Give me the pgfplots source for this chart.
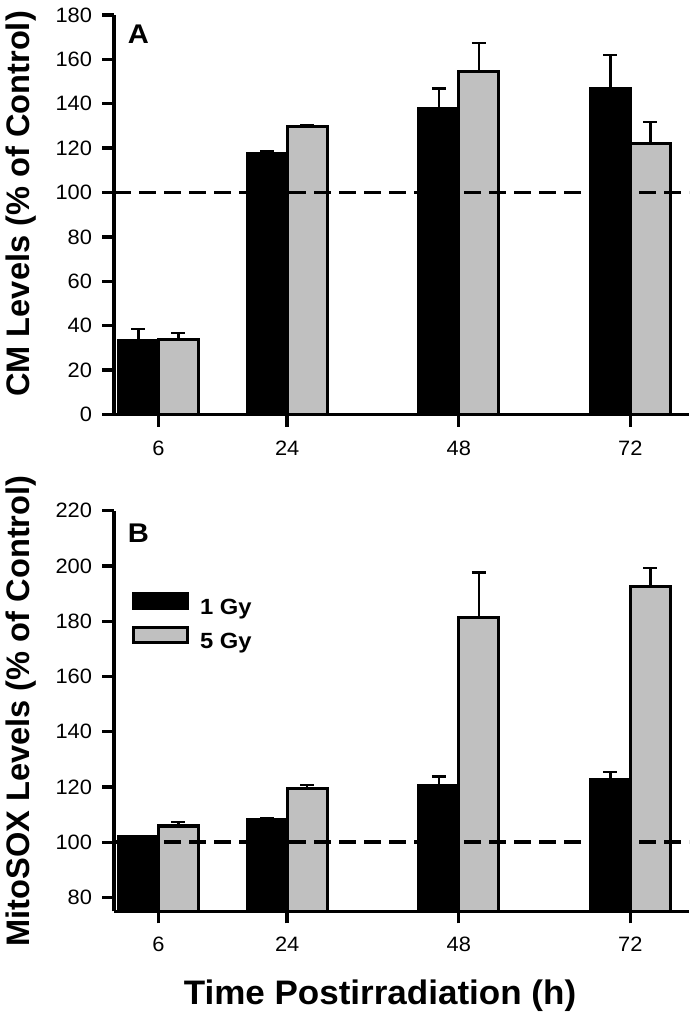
\documentclass[border=0pt]{standalone}
\usepackage{fontspec}
\setmainfont{Liberation Sans}
\newfontfamily\tickfont[FakeStretch=1.05]{Liberation Sans}
\newfontfamily\labfont[FakeStretch=1.08]{Liberation Sans}
\newfontfamily\xlabfont[FakeStretch=1.03]{Liberation Sans}
\usepackage{pgfplots}
\pgfplotsset{compat=1.18}
\usepackage{pgfplotstable}
\definecolor{barg}{RGB}{192,192,192}

\pgfplotstableread{
t m1 e1 m5 e5
6 33.4 5.0 33.7 3.0
24 117.4 1.2 129.8 0.6
48 137.7 9.2 154.5 13.0
72 147.0 15.0 122.0 9.7
}\dataA

\pgfplotstableread{
t m1 e1 m5 e5
6 102.2 0.0 105.9 1.5
24 108.4 0.4 119.5 1.2
48 120.7 3.1 181.3 16.3
72 122.8 2.7 192.5 6.7
}\dataB

\pgfplotsset{
 panel/.style={
  scale only axis, width=287.5pt,
  axis lines=left, axis line style={-, line width=1.8pt, black},
  xmin=-0.22, xmax=80.2,
  xtick={6,24,48,72},
  tick align=outside, major tick length=6pt,
  every tick/.style={black, line width=1.7pt},
  minor tick num=0,
  tick label style={font=\fontsize{10.4}{12}\tickfont, /pgf/number format/assume math mode=true},
  xticklabel style={anchor=north, inner sep=0pt},
  yticklabel style={anchor=east, inner sep=0pt},
  xticklabel shift=6.8pt, yticklabel shift=4.8pt,
  ylabel style={anchor=center, font=\fontsize{16.3}{19}\selectfont\bfseries},
 },
 mybar/.style={ybar, bar width=5.6, bar shift=0pt, line width=1.6pt, draw=black,
  legend image code/.code={\draw[##1] (0pt,0pt) rectangle (27pt,7.5pt);},
  error bars/y dir=plus, error bars/y explicit,
  error bars/error bar style={line width=1.2pt, black},
  error bars/error mark options={rotate=90, mark size=3.5pt, line width=1.2pt, black}},
 refline/.style={black, line width=1.9pt, dash pattern=on 8.5pt off 4pt, forget plot},
}

\begin{document}
\begin{tikzpicture}
\path[use as bounding box] (0pt,0pt) rectangle (348pt,-510pt);

\begin{axis}[panel, at={(57pt,-207.25pt)}, anchor=south west, height=199.75pt,
  ymin=0, ymax=180, ytick={0,20,...,180},
  ylabel={CM Levels (\% of Control)},
  ylabel style={at={(axis description cs:-0.1609,0.527)}}]
\addplot[mybar, fill=black] table[x expr=\thisrow{t}-2.8, y=m1, y error=e1] {\dataA};
\addplot[mybar, fill=barg] table[x expr=\thisrow{t}+2.8, y=m5, y error=e5] {\dataA};
\addplot[refline] coordinates {(-0.22,100) (80.2,100)};
\node[anchor=north west, inner sep=0pt, font=\fontsize{13.5}{15}\labfont\bfseries] at (axis cs:1.66,175.5) {A};
\end{axis}

\begin{axis}[panel, at={(57pt,-455.7pt)}, anchor=south west, height=200.35pt,
  ymin=75, ymax=220, ytick={80,100,...,220},
  ylabel={MitoSOX Levels (\% of Control)},
  ylabel style={at={(axis description cs:-0.1609,0.5)}},
  xlabel={Time Postirradiation (h)},
  xlabel style={at={(axis description cs:0.4626,0)}, anchor=center, yshift=-42.3pt, font=\fontsize{17}{20}\xlabfont\bfseries},
  legend cell align=left,
  legend style={at={(axis cs:2.27,190.7)}, anchor=north west, draw=none, fill=none, inner sep=0pt,
    row sep=3.6pt, column sep=5.3pt, font=\fontsize{11}{13}\labfont\bfseries,
    nodes={inner sep=0pt, text height=7.9pt, text depth=2.3pt}}]
\addplot[mybar, fill=black] table[x expr=\thisrow{t}-2.8, y=m1, y error=e1] {\dataB};
\addplot[mybar, fill=barg] table[x expr=\thisrow{t}+2.8, y=m5, y error=e5] {\dataB};
\addplot[refline] coordinates {(-0.22,100) (80.2,100)};
\legend{1 Gy, 5 Gy}
\node[anchor=north west, inner sep=0pt, font=\fontsize{13.5}{15}\labfont\bfseries] at (axis cs:1.66,215.5) {B};
\end{axis}
\end{tikzpicture}
\end{document}
